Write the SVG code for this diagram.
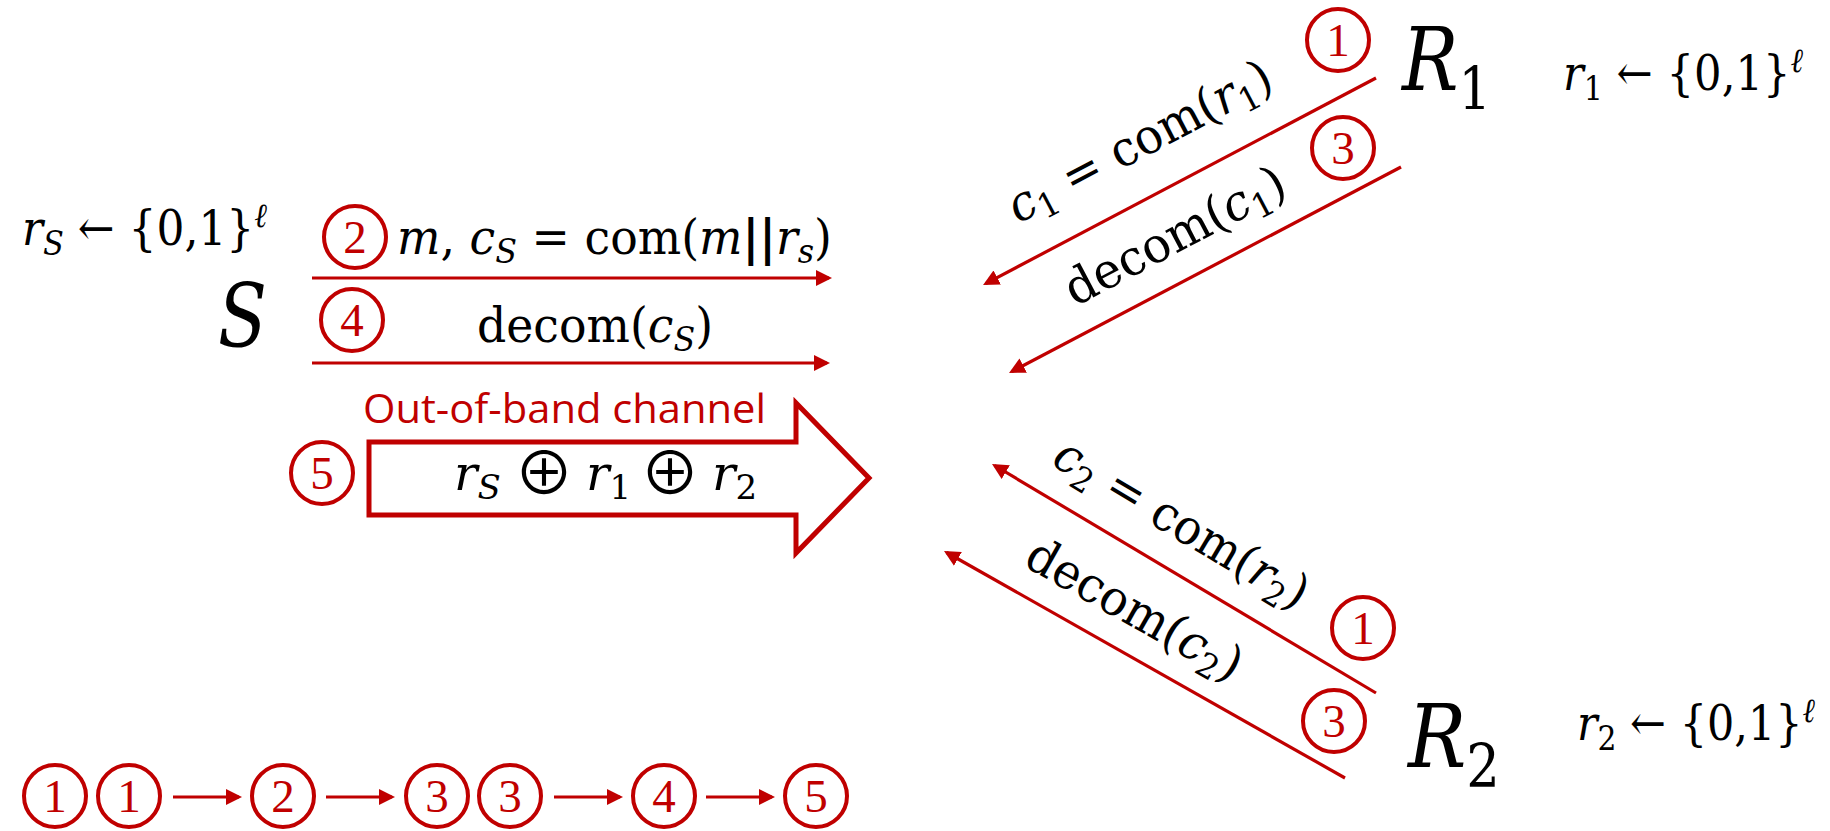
<svg xmlns="http://www.w3.org/2000/svg" width="1830" height="831" viewBox="0 0 1830 831">
<style>
.m{font-family:"DejaVu Serif","Liberation Serif",serif;font-size:49px;fill:#000}
.i{font-style:italic}
.big{font-family:"DejaVu Serif","Liberation Serif",serif;font-size:88px;font-style:italic;fill:#000}
.circ{fill:none;stroke:#C00000;stroke-width:4}
.num{font-family:"Liberation Serif",serif;font-size:47px;fill:#C00000;text-anchor:middle}
.conn{stroke:#C00000;stroke-width:3.2;fill:none}
.sans{font-family:"Open Sans","Liberation Sans",sans-serif;font-size:40px;fill:#C00000}
.op{font-family:"Noto Sans CJK JP","DejaVu Sans",sans-serif;font-size:60px;fill:#000;text-anchor:middle}
</style>
<defs>
<marker id="ah" markerUnits="userSpaceOnUse" markerWidth="16" markerHeight="16" refX="13" refY="8" orient="auto">
<path d="M0,0 L16,8 L0,16 z" fill="#C00000"/>
</marker>
</defs>
<rect width="1830" height="831" fill="#fff"/>

<g id="connectors">
<line class="conn" x1="312" y1="278" x2="829" y2="278" marker-end="url(#ah)"/>
<line class="conn" x1="312" y1="363" x2="827" y2="363" marker-end="url(#ah)"/>
<line class="conn" x1="1376" y1="78" x2="985.7" y2="283.6" marker-end="url(#ah)"/>
<line class="conn" x1="1401" y1="167" x2="1011.7" y2="371.6" marker-end="url(#ah)"/>
<line class="conn" x1="1376" y1="693" x2="994.6" y2="465.5" marker-end="url(#ah)"/>
<line class="conn" x1="1345" y1="778" x2="946.6" y2="552.5" marker-end="url(#ah)"/>
<line class="conn" x1="173" y1="797" x2="239" y2="797" marker-end="url(#ah)"/>
<line class="conn" x1="326" y1="797" x2="392" y2="797" marker-end="url(#ah)"/>
<line class="conn" x1="554" y1="797" x2="620" y2="797" marker-end="url(#ah)"/>
<line class="conn" x1="706" y1="797" x2="772" y2="797" marker-end="url(#ah)"/>
</g>

<g id="node-S">
<text class="m" x="22" y="245" textLength="245" lengthAdjust="spacingAndGlyphs"><tspan class="i">r</tspan><tspan class="i" font-size="34" dy="10">S</tspan><tspan dy="-10"> ← {0,1}</tspan><tspan class="i" font-size="34" dy="-18">ℓ</tspan></text>
<text class="big" x="218" y="347" textLength="49" lengthAdjust="spacingAndGlyphs">S</text>
</g>

<g id="node-R1">
<text class="big" x="1402" y="90" textLength="89" lengthAdjust="spacingAndGlyphs">R<tspan font-style="normal" font-size="60" dy="20">1</tspan></text>
<text class="m" x="1563" y="90" textLength="240" lengthAdjust="spacingAndGlyphs"><tspan class="i">r</tspan><tspan font-size="34" dy="10">1</tspan><tspan dy="-10"> ← {0,1}</tspan><tspan class="i" font-size="34" dy="-18">ℓ</tspan></text>
</g>

<g id="node-R2">
<text class="big" x="1408" y="767" textLength="92" lengthAdjust="spacingAndGlyphs">R<tspan font-style="normal" font-size="60" dy="20">2</tspan></text>
<text class="m" x="1577" y="740" textLength="238" lengthAdjust="spacingAndGlyphs"><tspan class="i">r</tspan><tspan font-size="34" dy="10">2</tspan><tspan dy="-10"> ← {0,1}</tspan><tspan class="i" font-size="34" dy="-18">ℓ</tspan></text>
</g>

<g id="msg-S">
<text class="m" x="397" y="254" textLength="435" lengthAdjust="spacingAndGlyphs"><tspan class="i">m</tspan>, <tspan class="i">c</tspan><tspan class="i" font-size="34" dy="9">S</tspan><tspan dy="-9"> = com(</tspan><tspan class="i">m</tspan><tspan font-weight="bold">||</tspan><tspan class="i">r</tspan><tspan class="i" font-size="34" dy="9">s</tspan><tspan dy="-9">)</tspan></text>
<text class="m" x="477" y="342" textLength="236" lengthAdjust="spacingAndGlyphs">decom(<tspan class="i">c</tspan><tspan class="i" font-size="34" dy="9">S</tspan><tspan dy="-9">)</tspan></text>
</g>

<g id="msg-R1">
<text class="m" transform="translate(1018,224) rotate(-27.8)" x="0" y="0" textLength="292" lengthAdjust="spacingAndGlyphs"><tspan class="i">c</tspan><tspan font-size="34" dy="9">1</tspan><tspan dy="-9"> = com(</tspan><tspan class="i">r</tspan><tspan font-size="34" dy="9">1</tspan><tspan dy="-9">)</tspan></text>
<text class="m" transform="translate(1075,307) rotate(-27.8)" x="0" y="0" textLength="243" lengthAdjust="spacingAndGlyphs">decom(<tspan class="i">c</tspan><tspan font-size="34" dy="9">1</tspan><tspan dy="-9">)</tspan></text>
</g>

<g id="msg-R2">
<text class="m" transform="translate(1050,464) rotate(30.8)" x="0" y="0" textLength="287" lengthAdjust="spacingAndGlyphs"><tspan class="i">c</tspan><tspan font-size="34" dy="9">2</tspan><tspan dy="-9"> = com(</tspan><tspan class="i">r</tspan><tspan font-size="34" dy="9">2</tspan><tspan dy="-9">)</tspan></text>
<text class="m" transform="translate(1022,565) rotate(29.4)" x="0" y="0" textLength="240" lengthAdjust="spacingAndGlyphs">decom(<tspan class="i">c</tspan><tspan font-size="34" dy="9">2</tspan><tspan dy="-9">)</tspan></text>
</g>

<g id="out-of-band">
<text class="sans" x="363" y="423" textLength="403" lengthAdjust="spacingAndGlyphs">Out-of-band channel</text>
<polygon points="369,442 796,442 796,403 869,478 796,553 796,515 369,515" fill="#fff" stroke="#C00000" stroke-width="5"/>
<text class="m" x="454" y="490"><tspan class="i">r</tspan><tspan class="i" font-size="34" dy="9">S</tspan></text>
<text class="op" x="544" y="495">⊕</text>
<text class="m" x="586" y="490"><tspan class="i">r</tspan><tspan font-size="34" dy="9">1</tspan></text>
<text class="op" x="670" y="495">⊕</text>
<text class="m" x="712" y="490"><tspan class="i">r</tspan><tspan font-size="34" dy="9">2</tspan></text>
</g>

<g id="step-1a"><circle class="circ" cx="1338" cy="40" r="31"/><text class="num" x="1338" y="56">1</text></g>
<g id="step-3a"><circle class="circ" cx="1343" cy="148" r="31"/><text class="num" x="1343" y="164">3</text></g>
<g id="step-2"><circle class="circ" cx="355" cy="237" r="31"/><text class="num" x="355" y="253">2</text></g>
<g id="step-4"><circle class="circ" cx="352" cy="320" r="31"/><text class="num" x="352" y="336">4</text></g>
<g id="step-5"><circle class="circ" cx="322" cy="473" r="31"/><text class="num" x="322" y="489">5</text></g>
<g id="step-1b"><circle class="circ" cx="1363" cy="628" r="31"/><text class="num" x="1363" y="644">1</text></g>
<g id="step-3b"><circle class="circ" cx="1334" cy="721" r="31"/><text class="num" x="1334" y="737">3</text></g>

<g id="order">
<circle class="circ" cx="55" cy="796" r="31"/><text class="num" x="55" y="812">1</text>
<circle class="circ" cx="129" cy="796" r="31"/><text class="num" x="129" y="812">1</text>
<circle class="circ" cx="283" cy="796" r="31"/><text class="num" x="283" y="812">2</text>
<circle class="circ" cx="437" cy="796" r="31"/><text class="num" x="437" y="812">3</text>
<circle class="circ" cx="510" cy="796" r="31"/><text class="num" x="510" y="812">3</text>
<circle class="circ" cx="664" cy="796" r="31"/><text class="num" x="664" y="812">4</text>
<circle class="circ" cx="816" cy="796" r="31"/><text class="num" x="816" y="812">5</text>
</g>
</svg>
